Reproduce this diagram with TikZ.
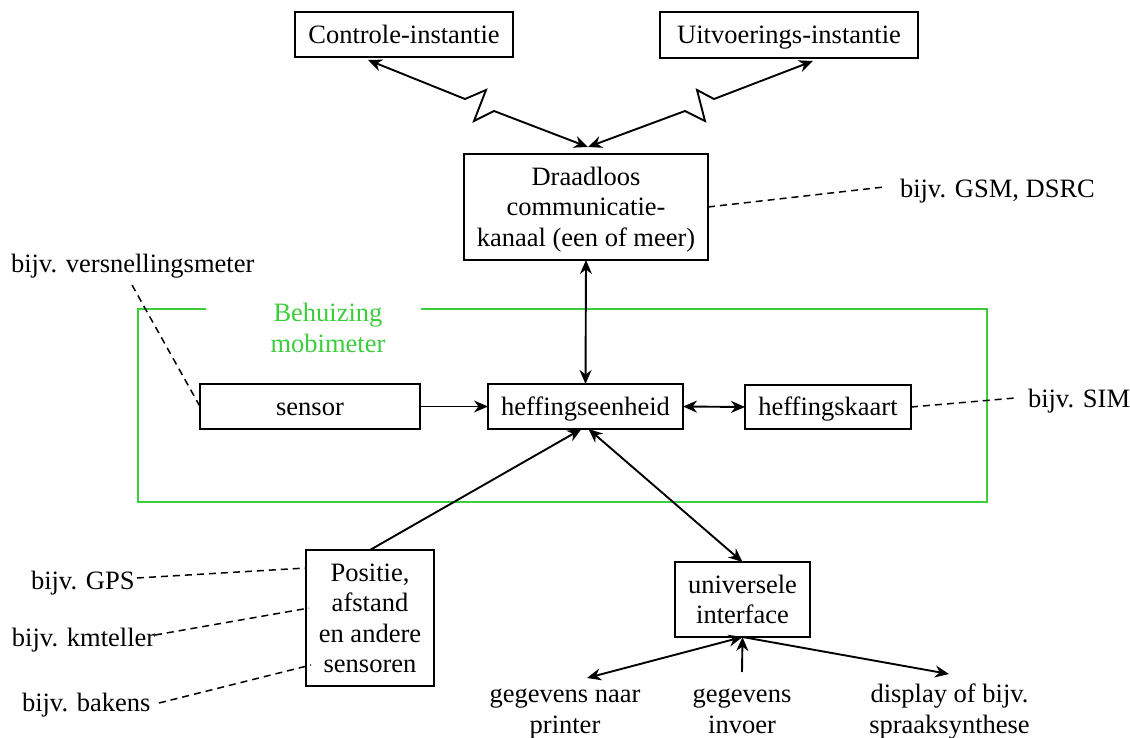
\documentclass[tikz,border=0pt]{standalone}
\usepackage{fontspec}
\setmainfont{Liberation Serif}
\usetikzlibrary{arrows.meta}
\definecolor{behgreen}{RGB}{60,205,60}
\newcommand{\mystrut}{\rule[-5.7pt]{0pt}{29.3pt}}
\begin{document}
\begin{tikzpicture}[x=1pt,y=-1pt,
  every node/.style={font=\fontsize{26.5}{30.5}\selectfont, inner sep=0pt, outer sep=0pt},
  box/.style={draw, line width=1.9pt, align=center},
  lbl/.style={align=center},
  conn/.style={line width=1.9pt},
  dsh/.style={line width=1.5pt, dash pattern=on 7pt off 5pt},
  >={Stealth[length=14pt,width=12pt,inset=4.5pt]}]
\useasboundingbox (0,0) rectangle (1130,738);

% boxes
\node[box, minimum width=218pt, minimum height=45pt] (ctrl) at (404,34.5) {\mystrut Controle-instantie};
\node[box, minimum width=258pt, minimum height=46pt] (uitv) at (789,35) {\mystrut Uitvoerings-instantie};
\node[box, minimum width=244pt, minimum height=106pt] (draad) at (586,207)
  {\mystrut Draadloos\\\mystrut communicatie-\\\mystrut kanaal (een of meer)};
\node[box, minimum width=220pt, minimum height=45pt] (sensor) at (310,406.5) {\mystrut sensor};
\node[box, minimum width=195pt, minimum height=45pt] (heff) at (585.5,406.5) {\mystrut heffingseenheid};
\node[box, minimum width=166pt, minimum height=44pt] (kaart) at (828,407) {\mystrut heffingskaart};
\node[box, minimum width=128pt, minimum height=136pt] (pos) at (370,618)
  {\mystrut Positie,\\\mystrut afstand\\\mystrut en andere\\\mystrut sensoren};
\node[box, minimum width=135pt, minimum height=75pt] (univ) at (742.5,599.5)
  {\mystrut universele\\\mystrut interface};

% labels
\node[anchor=west] (gsm) at (900,189) {\mystrut bijv. GSM, DSRC};
\node[anchor=west] (vsm) at (11,264) {\mystrut bijv. versnellingsmeter};
\node[anchor=west] (sim) at (1028,399) {\mystrut bijv. SIM};
\node[anchor=west] (gps) at (31,581) {\mystrut bijv. GPS};
\node[anchor=west] (kmt) at (12,638) {\mystrut bijv. kmteller};
\node[anchor=west] (bak) at (22,703) {\mystrut bijv. bakens};
\node[lbl, text=behgreen] (beh) at (328,328) {\mystrut Behuizing\\\mystrut mobimeter};
\node[lbl] (printer) at (565,709) {\mystrut gegevens naar\\\mystrut printer};
\node[lbl] (invoer) at (742,709) {\mystrut gegevens\\\mystrut invoer};
\node[lbl] (display) at (949.5,709) {\mystrut display of bijv.\\\mystrut spraaksynthese};

% housing
\draw[behgreen, line width=1.8pt] (206,309) -- (138,309) -- (138,502) -- (987,502) -- (987,309) -- (421,309);

% wireless links
\coordinate (lt) at (368,60);
\coordinate (l1) at (465,99);
\coordinate (l2) at (486,90);
\coordinate (l3) at (474,121);
\coordinate (l4) at (494,111);
\coordinate (rt) at (813,61);
\coordinate (r1) at (714,99);
\coordinate (r2) at (697,90);
\coordinate (r3) at (705,121);
\coordinate (r4) at (685,111);
\coordinate (dtip) at (588,147);
\draw[conn,<->] (lt) -- (l1) -- (l2) -- (l3) -- (l4) -- (dtip);
\draw[conn,<->] (rt) -- (r1) -- (r2) -- (r3) -- (r4) -- (dtip);

% solid connectors
\draw[conn,<->] (draad.south) -- (heff.north);
\draw[conn,->] (sensor.east) -- (heff.west);
\draw[conn,<->] (heff.east) -- (kaart.west);
\draw[conn,->] (pos.north) -- ([xshift=-4pt]heff.south);
\draw[conn,<->] ([xshift=3pt]heff.south) -- (univ.north);
\coordinate (prT) at (587,678);
\coordinate (invT) at (742,672);
\coordinate (dispT) at (949,674);
\draw[conn,<->] (univ.south) -- (prT);
\draw[conn,->] (invT) -- (univ.south);
\draw[conn,->] (univ.south) -- (dispT);

% dashed leaders
\coordinate (gsmL) at (884,187);
\coordinate (vsmL) at (132,285);
\coordinate (simL) at (1015,398);
\coordinate (gpsL) at (137,578);
\coordinate (gpsR) at (306,568);
\coordinate (kmtL) at (155,635);
\coordinate (kmtR) at (309,608);
\coordinate (bakL) at (159,703);
\coordinate (bakR) at (311,665);
\draw[dsh] (draad.east) -- (gsmL);
\draw[dsh] (vsmL) -- (sensor.west);
\draw[dsh] (kaart.east) -- (simL);
\draw[dsh] (gpsL) -- (gpsR);
\draw[dsh] (kmtL) -- (kmtR);
\draw[dsh] (bakL) -- (bakR);
\end{tikzpicture}
\end{document}
